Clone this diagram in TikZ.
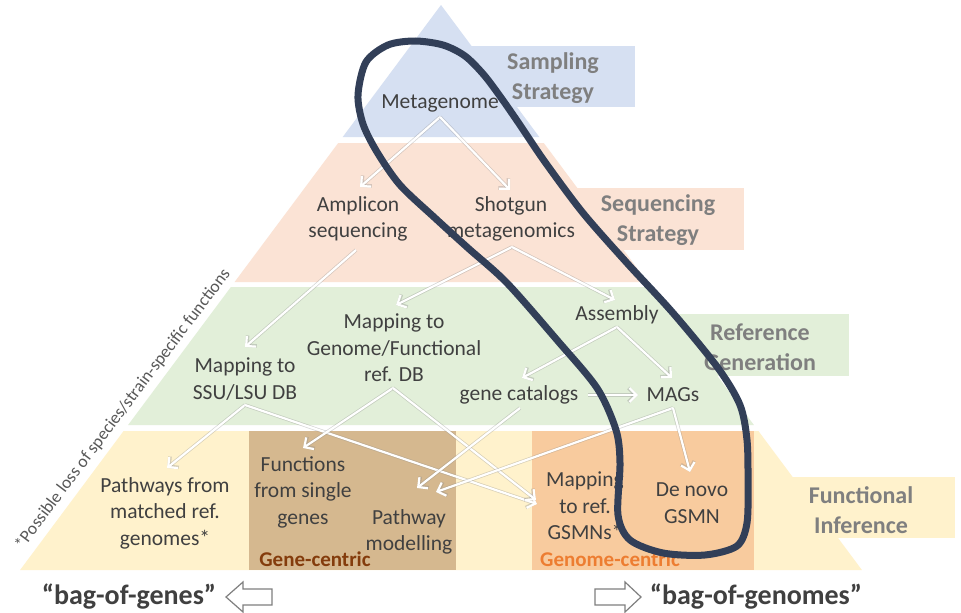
\documentclass[tikz,border=0pt]{standalone}
\usepackage{fontspec}
\setmainfont{Carlito}
\usetikzlibrary{arrows.meta,calc}
\definecolor{cblue}{HTML}{D6E0F2}
\definecolor{cpeach}{HTML}{FBE3D5}
\definecolor{cgreen}{HTML}{E2EFD9}
\definecolor{cyellow}{HTML}{FFF2CC}
\definecolor{cbrown}{HTML}{D5B88F}
\definecolor{corange}{HTML}{F8CB9E}
\definecolor{ctext}{HTML}{404040}
\definecolor{clabel}{HTML}{7F7F7F}
\definecolor{cnote}{HTML}{595959}
\definecolor{cgene}{HTML}{843C0C}
\definecolor{cgenome}{HTML}{ED7D31}
\definecolor{cloop}{HTML}{323F58}
\begin{document}
\begin{tikzpicture}[x=1pt,y=-1pt,
  txt/.style={text=ctext, align=center, inner sep=0pt, font=\fontsize{21.5}{26.5}\selectfont},
  lbl/.style={text=clabel, align=center, inner sep=0pt, font=\bfseries\fontsize{24}{30}\selectfont},
  centric/.style={inner sep=0pt, font=\bfseries\fontsize{21}{25}\selectfont},
  bag/.style={text=ctext, inner sep=0pt, font=\bfseries\fontsize{28}{34}\selectfont},
  flow/.style={draw=white, line width=2.2pt, -{Straight Barb[length=7pt,width=14pt,line width=2.2pt]},
    preaction={draw=black!45, opacity=.35, line width=3.6pt, -{Straight Barb[length=7pt,width=14pt,line width=3.6pt]}}},
  hollow/.style={draw=clabel, line width=1.2pt, fill=white, line join=miter},
]
\useasboundingbox (0,0) rectangle (961,613);
\fill[white] (0,0) rectangle (961,613);
% pyramid layers
\fill[cblue] (441,5) -- (539.3,137) -- (342.7,137) -- cycle;
\fill[cblue] (441,46) rectangle (635,107);
\fill[cpeach] (338.2,143) -- (543.8,143) -- (647.4,282) -- (234.6,282) -- cycle;
\fill[cpeach] (441,188) rectangle (744,250);
\fill[cgreen] (230.9,287) -- (651.1,287) -- (753.9,425) -- (128.1,425) -- cycle;
\fill[cgreen] (441,314) rectangle (849,376);
\fill[cyellow] (123.6,431) -- (758.4,431) -- (861.9,570) -- (20.1,570) -- cycle;
\fill[cyellow] (441,477) rectangle (955,538);
\fill[cbrown] (249,431) rectangle (456,570);
\fill[corange] (532,431) rectangle (754,570);
% layer labels
\node[lbl] (lsamp) at (553,78) {Sampling\\Strategy};
\node[lbl] (lseq) at (658,220) {Sequencing\\Strategy};
\node[lbl] (lref) at (760,347) {Reference\\Generation};
\node[lbl] (lfun) at (861,510) {Functional\\Inference};
% nodes
\node[txt] (meta) at (440,103) {Metagenome};
\node[txt] (amp) at (358,219) {Amplicon\\sequencing};
\node[txt] (shot) at (511,219) {Shotgun\\metagenomics};
\node[txt] (ssu) at (245,379) {Mapping to\\SSU/LSU DB};
\node[txt] (gfun) at (394,348) {Mapping to\\Genome/Functional\\ref. DB};
\node[txt] (asm) at (617,315) {Assembly};
\node[txt] (gcat) at (519,395) {gene catalogs};
\node[txt] (mags) at (673,395) {MAGs};
\node[txt] (pwm) at (165,513) {Pathways from\\matched ref.\\genomes*};
\node[txt] (fsg) at (303,492) {Functions\\from single\\genes};
\node[txt] (pmod) at (409,532) {Pathway\\modelling};
\node[txt] (gsmn) at (585,506) {Mapping\\to ref.\\GSMNs*};
\node[txt] (dnv) at (692,503) {De novo\\GSMN};
\node[centric, text=cgene] (gc) at (315,559) {Gene-centric};
\node[centric, text=cgenome] (gmc) at (610,559) {Genome-centric};
\node[rotate=53, text=cnote, inner sep=0pt, font=\fontsize{17.5}{20}\selectfont] (loss) at (123,409) {*Possible loss of species/strain-specific functions};
% flows
\draw[flow] ($(meta)+(0,14)$) -- ($(amp)+(2,-32)$);
\draw[flow] ($(meta)+(0,14)$) -- ($(shot)+(-1,-29)$);
\draw[flow] ($(amp)+(-2,31)$) -- ($(ssu)+(0,-32)$);
\draw[flow] ($(shot)+(1,28)$) -- ($(gfun)+(2,-43)$);
\draw[flow] ($(shot)+(1,28)$) -- ($(asm)+(-2,-15)$);
\draw[flow] ($(asm)+(0,12)$) -- ($(gcat)+(3,-17)$);
\draw[flow] ($(asm)+(0,12)$) -- ($(mags)+(-1,-17)$);
\draw[flow] ($(gcat)+(69,0)$) -- ($(mags)+(-35,0)$);
\draw[flow] ($(ssu)+(0,26)$) -- ($(pwm)+(2,-45)$);
\draw[flow] ($(ssu)+(0,26)$) -- ($(gsmn)+(-48,-2)$);
\draw[flow] ($(gfun)+(-1,40)$) -- ($(fsg)+(0,-44)$);
\draw[flow] ($(gfun)+(-1,40)$) -- ($(gsmn)+(-49,-6)$);
\draw[flow] ($(gcat)+(1,13)$) -- ($(pmod)+(8,-44)$);
\draw[flow] ($(mags)+(0,13)$) -- ($(pmod)+(27,-40)$);
\draw[flow] ($(mags)+(0,13)$) -- ($(dnv)+(-2,-31)$);
% loop
\draw[cloop, line width=7pt] plot[smooth cycle, tension=0.5] coordinates {
 (358,95) (366,62) (388,45) (415,41) (443,45) (465,56) (484,75) (502,99)
 (520,125) (545,162) (583,213) (627,263) (673,313) (718,368) (740,405)
 (747,440) (748,480) (747,523) (737,546) (705,555) (663,553) (630,540)
 (618,515) (620,463) (616,430) (597,388) (557,340) (507,283) (468,248)
 (435,218) (400,185) (377,152) (363,124)};
% bottom
\node[bag] (bgenes) at (129,597) {“bag-of-genes”};
\node[bag] (bgenomes) at (756,597) {“bag-of-genomes”};
\draw[hollow] (226,597) -- (243,582) -- (243,589) -- (272,589) -- (272,605) -- (243,605) -- (243,612) -- cycle;
\draw[hollow] (641,597) -- (625,582) -- (625,589) -- (595,589) -- (595,605) -- (625,605) -- (625,612) -- cycle;
\end{tikzpicture}
\end{document}
